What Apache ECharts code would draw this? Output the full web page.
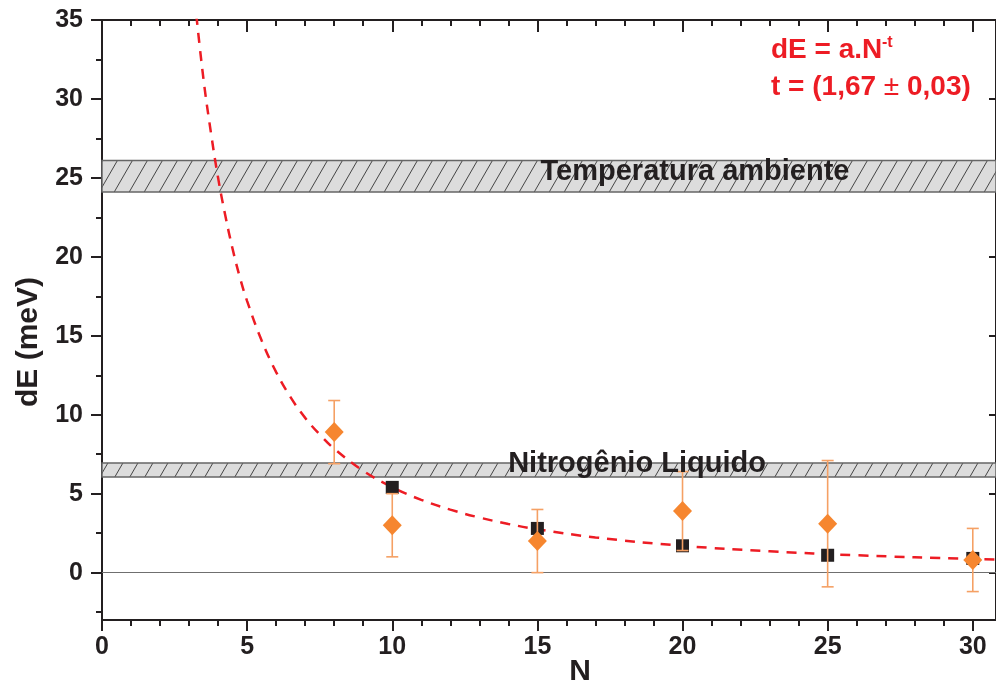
<!DOCTYPE html>
<html>
<head>
<meta charset="utf-8">
<title>dE vs N</title>
<script src="https://cdn.jsdelivr.net/npm/echarts@6/dist/echarts.min.js"></script>
<style>
  html, body { margin: 0; padding: 0; background: #ffffff; }
  #chart { width: 996px; height: 689px; }
</style>
</head>
<body>
<div id="chart"></div>
<script>
// Measured splittings (meV) versus N
const squareN = [10, 15, 20, 25, 30];
const squareDE = [5.4, 2.8, 1.7, 1.1, 0.9];

const diamondN = [8, 10, 15, 20, 25, 30];
const diamondDE = [8.9, 3.0, 2.0, 3.9, 3.1, 0.8];
const diamondErr = [2.0, 2.0, 2.0, 2.5, 4.0, 2.0];

// Fitted power law dE = a.N^-t, sampled along the drawn curve
const fitN = [3.25, 3.5, 3.75, 4, 4.25, 4.5, 4.75, 5, 5.5, 6, 6.5, 7, 7.5, 8, 9, 10, 11, 12, 13, 14, 15, 17, 20, 23, 26, 30, 30.8];
const fitDE = [35.3, 31.2, 27.9, 25.0, 22.6, 20.5, 18.7, 17.2, 14.7, 12.7, 11.1, 9.8, 8.75, 7.85, 6.45, 5.41, 4.61, 3.99, 3.49, 3.08, 2.75, 2.23, 1.70, 1.35, 1.10, 0.86, 0.83];

// Thermal energy bands (meV)
const roomTempBand = [24.1, 26.1];
const nitrogenBand = [6.05, 6.95];

// Axis ticks
const xMajorTicks = [0, 5, 10, 15, 20, 25, 30];
const xMinorTicks = [1, 2, 3, 4, 6, 7, 8, 9, 11, 12, 13, 14, 16, 17, 18, 19, 21, 22, 23, 24, 26, 27, 28, 29];
const yMajorTicks = [0, 5, 10, 15, 20, 25, 30, 35];
const yMinorTicks = [-2.5, 2.5, 7.5, 12.5, 17.5, 22.5, 27.5, 32.5];

const ink = '#231f20';
const red = '#ed1c24';
const orange = '#f6862f';
const errColor = '#f5a064';
const fontFamily = "'Liberation Sans', Arial, Helvetica, sans-serif";

// Hatched fill for the bands
function hatchPattern() {
  const w = 15, h = 26;
  const c = document.createElement('canvas');
  c.width = w; c.height = h;
  const g = c.getContext('2d');
  g.fillStyle = '#dcdcdc';
  g.fillRect(0, 0, w, h);
  g.strokeStyle = '#333333';
  g.lineWidth = 0.9;
  for (const k of [-1, 0, 1]) {
    g.beginPath();
    g.moveTo(k * w, h);
    g.lineTo((k + 1) * w, 0);
    g.stroke();
  }
  return { image: c, repeat: 'repeat' };
}

const gridBox = { left: 102, top: 20, width: 895.4, height: 600 };
const xRange = { min: 0, max: 30.8 };
const yRange = { min: -3, max: 35 };

function frameAxis(extra) {
  return Object.assign({
    type: 'value',
    splitLine: { show: false },
    axisLine: { show: true, onZero: false, lineStyle: { color: ink, width: 2 } },
    axisLabel: { show: false },
    axisTick: { show: true, lineStyle: { color: ink, width: 2 } }
  }, extra);
}

const chart = echarts.init(document.getElementById('chart'), null, { renderer: 'canvas' });

chart.setOption({
  animation: false,
  backgroundColor: '#ffffff',
  grid: [
    Object.assign({}, gridBox),
    Object.assign({}, gridBox)
  ],
  xAxis: [
    frameAxis(Object.assign({
      gridIndex: 0, position: 'bottom',
      axisTick: { show: true, inside: false, length: 11, customValues: xMajorTicks, lineStyle: { color: ink, width: 2 } },
      axisLabel: { show: true, customValues: xMajorTicks, color: ink, fontSize: 25, fontWeight: 'bold', fontFamily: fontFamily, margin: 15 }
    }, xRange)),
    frameAxis(Object.assign({
      gridIndex: 0, position: 'top',
      axisTick: { show: true, inside: true, length: 12, customValues: xMajorTicks, lineStyle: { color: ink, width: 2 } }
    }, xRange)),
    frameAxis(Object.assign({
      gridIndex: 1, position: 'bottom',
      axisLine: { show: false, onZero: false },
      axisTick: { show: true, inside: false, length: 6, customValues: xMinorTicks, lineStyle: { color: ink, width: 2 } }
    }, xRange)),
    frameAxis(Object.assign({
      gridIndex: 1, position: 'top',
      axisLine: { show: false, onZero: false },
      axisTick: { show: true, inside: true, length: 6, customValues: xMinorTicks, lineStyle: { color: ink, width: 2 } }
    }, xRange))
  ],
  yAxis: [
    frameAxis(Object.assign({
      gridIndex: 0, position: 'left',
      axisTick: { show: true, inside: false, length: 11, customValues: yMajorTicks, lineStyle: { color: ink, width: 2 } },
      axisLabel: { show: true, customValues: yMajorTicks, color: ink, fontSize: 25, fontWeight: 'bold', fontFamily: fontFamily, margin: 19 }
    }, yRange)),
    frameAxis(Object.assign({
      gridIndex: 0, position: 'right',
      axisTick: { show: true, inside: true, length: 7, customValues: yMajorTicks, lineStyle: { color: ink, width: 2 } }
    }, yRange)),
    frameAxis(Object.assign({
      gridIndex: 1, position: 'left',
      axisLine: { show: false, onZero: false },
      axisTick: { show: true, inside: false, length: 6, customValues: yMinorTicks, lineStyle: { color: ink, width: 2 } }
    }, yRange))
  ],
  series: [
    {
      // thermal bands and the zero line
      name: 'bands',
      type: 'line',
      xAxisIndex: 0,
      yAxisIndex: 0,
      data: [],
      z: 1,
      silent: true,
      markArea: {
        silent: true,
        itemStyle: { color: hatchPattern(), borderColor: '#666666', borderWidth: 1.5, opacity: 1 },
        data: [
          [{ yAxis: roomTempBand[0] }, { yAxis: roomTempBand[1] }],
          [{ yAxis: nitrogenBand[0] }, { yAxis: nitrogenBand[1] }]
        ]
      },
      markLine: {
        silent: true,
        symbol: ['none', 'none'],
        label: { show: false },
        lineStyle: { color: '#6f6f6f', width: 1.2, type: 'solid' },
        data: [{ yAxis: 0 }]
      }
    },
    {
      name: 'fit',
      type: 'line',
      xAxisIndex: 0,
      yAxisIndex: 0,
      data: fitN.map((n, i) => [n, fitDE[i]]),
      smooth: 0.4,
      symbol: 'none',
      clip: true,
      z: 3,
      lineStyle: { color: red, width: 2.5, type: [10, 8] }
    },
    {
      name: 'squares',
      type: 'scatter',
      xAxisIndex: 0,
      yAxisIndex: 0,
      data: squareN.map((n, i) => [n, squareDE[i]]),
      symbol: 'rect',
      symbolSize: 13,
      z: 4,
      itemStyle: { color: ink, opacity: 1 }
    },
    {
      name: 'errors',
      type: 'custom',
      xAxisIndex: 0,
      yAxisIndex: 0,
      z: 5,
      data: diamondN.map((n, i) => [n, diamondDE[i] - diamondErr[i], diamondDE[i] + diamondErr[i]]),
      encode: { x: 0, y: [1, 2] },
      renderItem: function (params, api) {
        const x = api.value(0);
        const lo = api.coord([x, api.value(1)]);
        const hi = api.coord([x, api.value(2)]);
        const cap = 6;
        const style = { stroke: errColor, lineWidth: 1.6, fill: null };
        return {
          type: 'group',
          children: [
            { type: 'line', shape: { x1: lo[0], y1: lo[1], x2: hi[0], y2: hi[1] }, style: style },
            { type: 'line', shape: { x1: lo[0] - cap, y1: lo[1], x2: lo[0] + cap, y2: lo[1] }, style: style },
            { type: 'line', shape: { x1: hi[0] - cap, y1: hi[1], x2: hi[0] + cap, y2: hi[1] }, style: style }
          ]
        };
      }
    },
    {
      name: 'diamonds',
      type: 'scatter',
      xAxisIndex: 0,
      yAxisIndex: 0,
      data: diamondN.map((n, i) => [n, diamondDE[i]]),
      symbol: 'diamond',
      symbolSize: [19, 20],
      z: 6,
      itemStyle: { color: orange, opacity: 1 }
    }
  ],
  graphic: [
    {
      type: 'text', x: 695, y: 172, z: 10, silent: true,
      style: { text: 'Temperatura ambiente', fill: ink, font: 'bold 29px ' + fontFamily, align: 'center', verticalAlign: 'middle' }
    },
    {
      type: 'text', x: 637, y: 464, z: 10, silent: true,
      style: { text: 'Nitrogênio Liquido', fill: ink, font: 'bold 29px ' + fontFamily, align: 'center', verticalAlign: 'middle' }
    },
    {
      type: 'text', x: 771, y: 50, z: 10, silent: true,
      style: { text: 'dE = a.N', fill: red, font: 'bold 28px ' + fontFamily, align: 'left', verticalAlign: 'middle' }
    },
    {
      type: 'text', x: 882, y: 43, z: 10, silent: true,
      style: { text: '-t', fill: red, font: 'bold 16px ' + fontFamily, align: 'left', verticalAlign: 'middle' }
    },
    {
      type: 'text', x: 771, y: 87, z: 10, silent: true,
      style: {
        text: '{b|t = (1,67 }{n|±}{b| 0,03)}',
        align: 'left', verticalAlign: 'middle',
        rich: {
          b: { fill: red, font: 'bold 28px ' + fontFamily },
          n: { fill: red, font: 'normal 28px ' + fontFamily }
        }
      }
    },
    {
      type: 'text', x: 580, y: 672, z: 10, silent: true,
      style: { text: 'N', fill: ink, font: 'bold 30px ' + fontFamily, align: 'center', verticalAlign: 'middle' }
    },
    {
      type: 'text', x: 29, y: 342, z: 10, silent: true, rotation: Math.PI / 2,
      style: { text: 'dE (meV)', fill: ink, font: 'bold 30px ' + fontFamily, align: 'center', verticalAlign: 'middle' }
    }
  ]
});
</script>
</body>
</html>
